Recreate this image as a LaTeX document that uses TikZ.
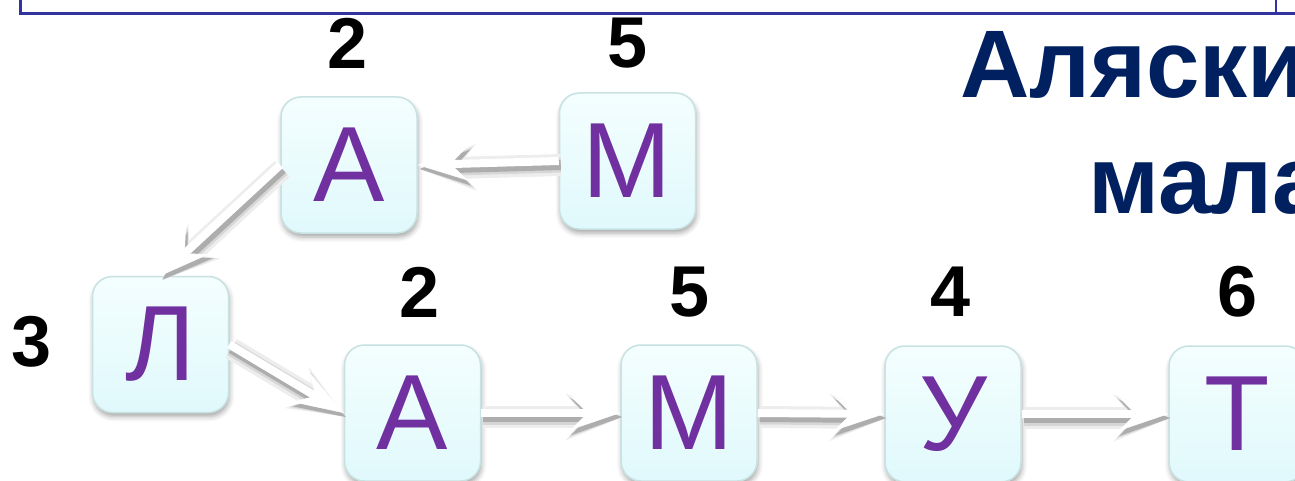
\documentclass[tikz,border=0pt]{standalone}
\usepackage{fontspec}
\setmainfont{Liberation Sans}
\usetikzlibrary{arrows.meta,shadows.blur}
\definecolor{frameblue}{HTML}{3333A0}
\definecolor{navy}{HTML}{002060}
\definecolor{letterpurple}{HTML}{7030A0}
\definecolor{boxtop}{HTML}{F4FEFE}
\definecolor{boxbot}{HTML}{E0F9FC}
\definecolor{boxedge}{HTML}{C8E2E2}
\tikzset{
  letterbox/.style={draw=boxedge, line width=1.5pt, rounded corners=20pt,
    minimum width=136pt, minimum height=136pt, top color=boxtop, bottom color=boxbot,
    inner sep=0pt, text=letterpurple, font=\fontsize{107}{107}\selectfont,
    blur shadow={shadow xshift=1pt, shadow yshift=-4pt, shadow blur radius=5pt, shadow opacity=35}},
  digit/.style={font=\fontsize{72}{72}\selectfont\bfseries, inner sep=0pt},
  titletext/.style={font=\fontsize{96}{96}\selectfont\bfseries, text=navy, inner sep=0pt, anchor=base west},
  arr/.style={draw=white, line width=8pt,
    -{Stealth[length=50pt,width=34pt,inset=17pt,line width=0.5pt]},
    preaction={draw=black!7, line width=22pt, -{Stealth[length=56pt,width=46pt,inset=19pt,line width=10pt]},
      transform canvas={shift={(2pt,-4pt)}}},
    preaction={draw=black!16, line width=15pt, -{Stealth[length=53pt,width=40pt,inset=18pt,line width=6pt]},
      transform canvas={shift={(2pt,-4pt)}}},
    preaction={draw=black!32, line width=10pt, -{Stealth[length=51pt,width=36pt,inset=17pt,line width=2pt]},
      transform canvas={shift={(2pt,-4pt)}}}},
  frameline/.style={draw=frameblue, line width=3pt}
}
\begin{document}
\begin{tikzpicture}[x=1pt,y=-1pt]
\useasboundingbox (0,0) rectangle (1295,481);
% frame
\draw[frameline] (20.7,-2) -- (20.7,14) -- (1297,14);
\draw[frameline, line width=2pt] (1276,-2) -- (1276,14);
% title
\node[titletext] (t1) at (960,98) {Аляски};
\node[titletext] (t2) at (1088,213) {мала};
% boxes
\node[letterbox] (at) at (349,165) {А};
\node[letterbox] (mt) at (627.5,161) {М};
\node[letterbox] (l) at (160.5,344.5) {Л};
\node[letterbox] (ab) at (412.5,413) {А};
\node[letterbox] (mb) at (689,413) {М};
\node[letterbox] (u) at (953,414) {У};
\node[letterbox] (t) at (1237,414) {Т};
% digits
\node[digit] (d1) at (348,43) {2};
\node[digit] (d2) at (628,43) {5};
\node[digit] (d3) at (32,342) {3};
\node[digit] (d4) at (420,292) {2};
\node[digit] (d5) at (690,292) {5};
\node[digit] (d6) at (951,292) {4};
\node[digit] (d7) at (1238,292) {6};
% arrows
\draw[arr] (mt.west) -- (at.east);
\draw[arr] (at.west) -- (l.north);
\draw[arr] (l.east) -- (ab.west);
\draw[arr] (ab.east) -- (mb.west);
\draw[arr] (mb.east) -- (u.west);
\draw[arr] (u.east) -- (t.west);
\end{tikzpicture}
\end{document}
